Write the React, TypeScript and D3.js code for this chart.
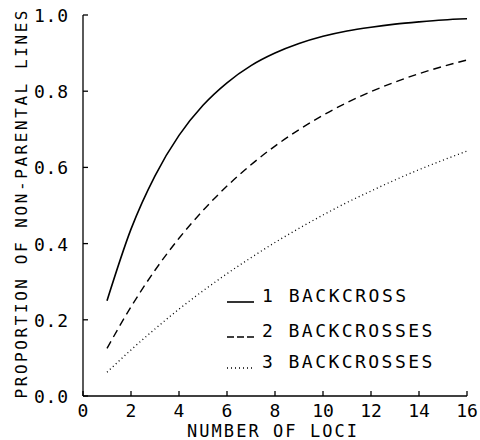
import React from "react";
import * as d3 from "d3";

const loci = [1, 2, 3, 4, 5, 6, 7, 8, 9, 10, 11, 12, 13, 14, 15, 16];
const oneBackcross = [0.25, 0.438, 0.578, 0.684, 0.763, 0.822, 0.867, 0.9, 0.925, 0.944, 0.958, 0.968, 0.976, 0.982, 0.987, 0.99];
const twoBackcrosses = [0.125, 0.234, 0.33, 0.414, 0.487, 0.551, 0.607, 0.656, 0.699, 0.737, 0.77, 0.799, 0.824, 0.846, 0.865, 0.882];
const threeBackcrosses = [0.0625, 0.121, 0.176, 0.228, 0.276, 0.321, 0.363, 0.403, 0.44, 0.475, 0.508, 0.538, 0.567, 0.594, 0.619, 0.643];
const xTicks = [0, 2, 4, 6, 8, 10, 12, 14, 16];
const yTicks = [0, 0.2, 0.4, 0.6, 0.8, 1.0];
const legendLabels = ["1 BACKCROSS", "2 BACKCROSSES", "3 BACKCROSSES"];

const W = 480;
const H = 440;
const FONT = "'DejaVu Sans Mono', monospace";

const App = () => {
  const x = d3.scaleLinear().domain([0, 16]).range([83, 467]);
  const y = d3.scaleLinear().domain([0, 1]).range([396, 15]);

  const line = d3
    .line<number>()
    .x((_, i) => x(loci[i]))
    .y((d) => y(d))
    .curve(d3.curveMonotoneX);

  const series = [
    { values: oneBackcross, dash: "none", legendDash: "none", width: 1.6 },
    { values: twoBackcrosses, dash: "8,5", legendDash: "7,3", width: 1.4 },
    { values: threeBackcrosses, dash: "1,3", legendDash: "1,3", width: 1.3 },
  ];

  // legend baselines
  const legendY = [302, 337, 368];

  return (
    <svg
      width={W}
      height={H}
      style={{ position: "absolute", left: 0, top: 0, background: "#fff" }}
    >
      {/* y axis */}
      <line x1={x(0)} x2={x(0)} y1={y(0)} y2={y(1)} stroke="#000" strokeWidth={1.3} />
      {yTicks.map((t) => (
        <g key={t}>
          <line x1={x(0)} x2={x(0) + 5} y1={y(t)} y2={y(t)} stroke="#000" strokeWidth={1.3} />
          <text
            x={x(0) - 15}
            y={y(t) + 7}
            textAnchor="end"
            fontFamily={FONT}
            fontSize={18}
            textLength={34}
            lengthAdjust="spacing"
          >
            {t.toFixed(1)}
          </text>
        </g>
      ))}
      {/* x axis */}
      <line x1={x(0)} x2={x(16)} y1={y(0)} y2={y(0)} stroke="#000" strokeWidth={1.3} />
      {xTicks.map((t) => (
        <g key={t}>
          <line x1={x(t)} x2={x(t)} y1={y(0)} y2={y(0) - 5} stroke="#000" strokeWidth={1.3} />
          <text
            x={x(t)}
            y={417}
            textAnchor="middle"
            fontFamily={FONT}
            fontSize={18}
          >
            {t}
          </text>
        </g>
      ))}
      <text
        x={272}
        y={437}
        textAnchor="middle"
        fontFamily={FONT}
        fontSize={17}
        textLength={170}
        lengthAdjust="spacing"
      >
        NUMBER OF LOCI
      </text>
      <text
        transform={`translate(27,${y(0.5) - 1}) rotate(-90)`}
        textAnchor="middle"
        fontFamily={FONT}
        fontSize={16}
        textLength={388}
        lengthAdjust="spacing"
      >
        PROPORTION OF NON-PARENTAL LINES
      </text>

      {/* curves */}
      {series.map((s, i) => (
        <path
          key={i}
          d={line(s.values) || ""}
          fill="none"
          stroke="#000"
          strokeWidth={s.width}
          strokeDasharray={s.dash}
        />
      ))}

      {/* legend */}
      {legendLabels.map((lab, i) => (
        <g key={lab}>
          <line
            x1={227}
            x2={254}
            y1={legendY[i]}
            y2={legendY[i]}
            stroke="#000"
            strokeWidth={series[i].width}
            strokeDasharray={series[i].legendDash}
          />
          <text
            x={262}
            y={legendY[i]}
            fontFamily={FONT}
            fontSize={18}
            textLength={lab.length * 13.1}
            lengthAdjust="spacing"
          >
            {lab}
          </text>
        </g>
      ))}
    </svg>
  );
};

export default App;
